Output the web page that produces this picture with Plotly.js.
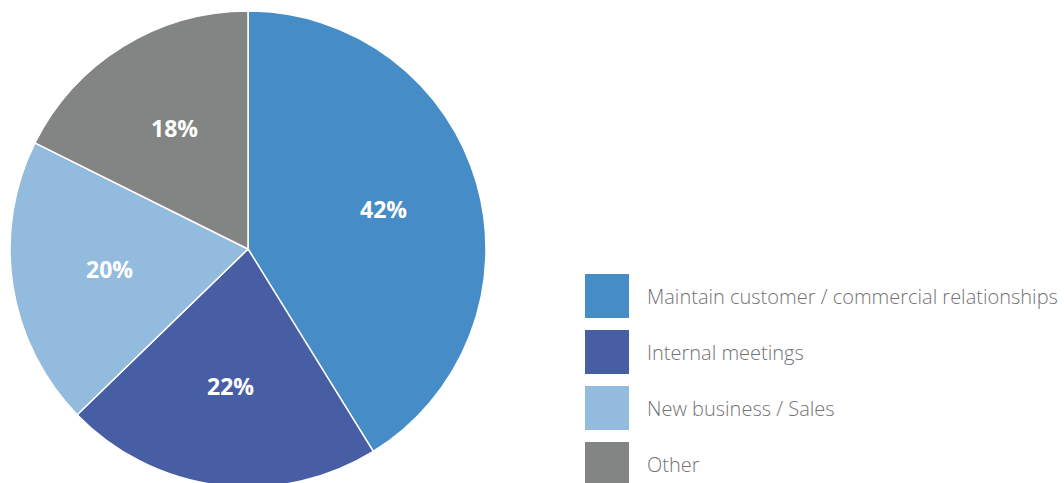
<!DOCTYPE html>
<html>
<head>
<meta charset="utf-8">
<script src="https://cdn.plot.ly/plotly-3.0.1.min.js"></script>
<style>
html,body{margin:0;padding:0;overflow:hidden;background:#fff;}
#chart{width:1064px;height:487px;}
</style>
</head>
<body>
<div id="chart"></div>
<script>
var categories = ["Maintain customer / commercial relationships", "Internal meetings", "New business / Sales", "Other"];
var shares = [42, 22, 20, 18];
var colors = ["#468dc8", "#485ea4", "#92bbdd", "#838584"];

var W = 1064, H = 487, T = 11;
function px(x){ return x / W; }
function py(y){ return 1 - (y - T) / (H - T); }

var shapes = [], annotations = [];
categories.forEach(function(c, i){
  var top = 274 + i * 56;
  shapes.push({type:'rect', xref:'paper', yref:'paper', x0:px(585), x1:px(629), y0:py(top+44), y1:py(top),
    fillcolor:colors[i], line:{width:0}});
  annotations.push({xref:'paper', yref:'paper', x:px(645), y:py(top+22), xanchor:'left', yanchor:'middle',
    text:c, showarrow:false, font:{family:'Open Sans, sans-serif', size:20, color:'#737373', weight:300}});
});

// percentage labels at each slice's mid-angle
var cx = 248, cy = 249, R = 238;
var total = shares.reduce(function(a, b){ return a + b; }, 0);
var cum = 0;
shares.forEach(function(v, i){
  var mid = (cum + v / 2) / total * 2 * Math.PI;
  cum += v;
  var r = 0.59 * R;
  var lx = cx + r * Math.sin(mid), ly = cy - r * Math.cos(mid) - 2;
  annotations.push({xref:'paper', yref:'paper', x:px(lx), y:py(ly), xanchor:'center', yanchor:'middle',
    text:v + '%', showarrow:false, font:{family:'Open Sans, sans-serif', size:23, color:'#ffffff', weight:'bold'}});
});

var data = [{
  type:'pie',
  labels:categories,
  values:shares,
  sort:false,
  direction:'clockwise',
  rotation:0,
  marker:{colors:colors, line:{color:'#ffffff', width:1.5}},
  textinfo:'none',
  hoverinfo:'none',
  domain:{x:[px(10), px(486)], y:[0, 1]}
}];

var layout = {
  width:W, height:H,
  margin:{l:0, r:0, t:T, b:0},
  showlegend:false,
  paper_bgcolor:'#ffffff',
  shapes:shapes,
  annotations:annotations
};

Plotly.newPlot('chart', data, layout, {displayModeBar:false, staticPlot:true});
</script>
</body>
</html>
